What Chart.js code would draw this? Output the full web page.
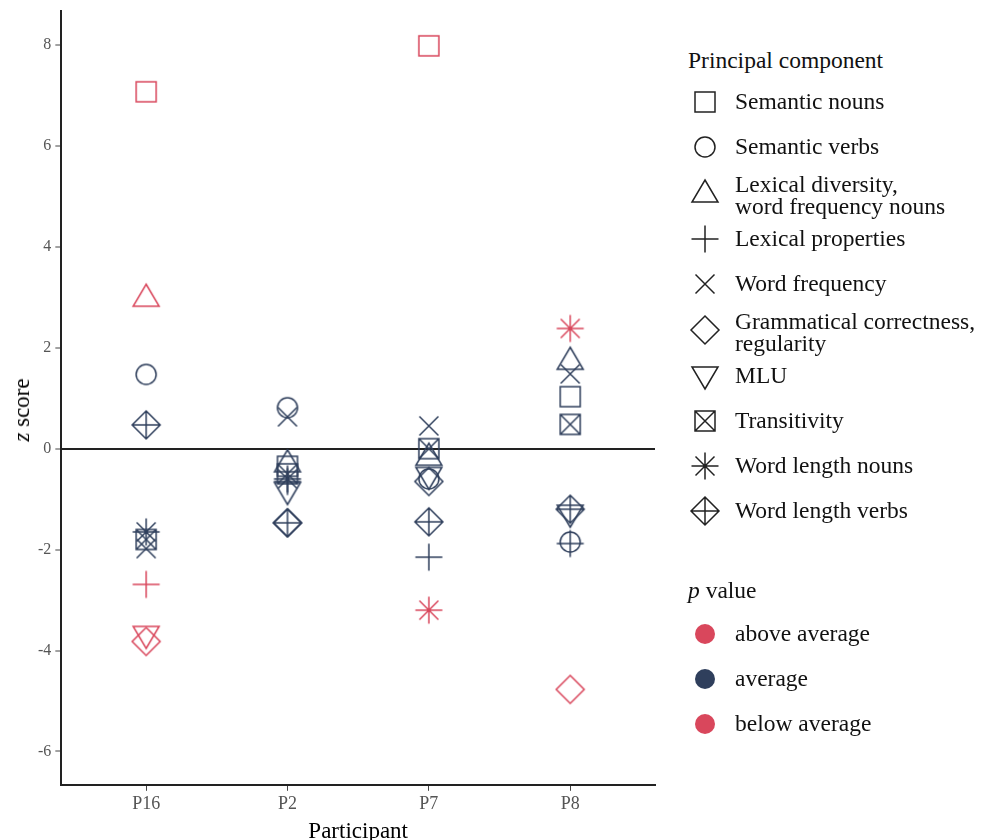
<!DOCTYPE html>
<html>
<head>
<meta charset="utf-8">
<script src="https://cdn.jsdelivr.net/npm/chart.js@4.4.1/dist/chart.umd.min.js"></script>
<style>
  body { margin: 0; background: #fff; width: 989px; height: 840px; overflow: hidden; position: relative; font-family: "Liberation Serif", "Times New Roman", serif; }
  #wrap { position: absolute; left: 0; top: -4px; width: 670px; height: 850px; }
  #ytitle { position: absolute; left: 22px; top: 410px; transform: translate(-50%, -50%) rotate(-90deg); font-size: 23px; color: #000; white-space: nowrap; }
  #legend { position: absolute; left: 688px; top: 45px; width: 300px; color: #111; font-size: 23.5px; }
  .ltitle { height: 34px; line-height: 30px; }
  .item { display: flex; align-items: center; height: 45px; }
  .item.two { height: 47px; line-height: 22px; }
  .item.two span { padding-top: 4px; }
  .item canvas { width: 34px; height: 34px; margin-left: 0; margin-right: 13px; flex: none; }
  .gap { height: 42px; }
  .ptitle { height: 36px; line-height: 30px; }
</style>
</head>
<body>
<div id="wrap"><canvas id="chart" width="670" height="850"></canvas></div>
<div id="ytitle"><i>z</i> score</div>
<div id="legend"></div>
<script>
// Participants (x axis)
const participants = ["P16", "P2", "P7", "P8"];
const yTicks = [-6, -4, -2, 0, 2, 4, 6, 8];

// Principal components (legend order)
const components = [
    "Semantic nouns",
    "Semantic verbs",
    "Lexical diversity,\nword frequency nouns",
    "Lexical properties",
    "Word frequency",
    "Grammatical correctness,\nregularity",
    "MLU",
    "Transitivity",
    "Word length nouns",
    "Word length verbs"
];
const shapes = ["square", "circle", "triangle", "plus", "cross", "diamond", "triangleDown", "squareCross", "asterisk", "diamondPlus"];

// z scores, one value per participant
const semanticNouns     = [7.07, -0.35, 7.98, 1.03];
const semanticVerbs     = [1.47, 0.81, -0.60, -1.85];
const lexicalDiversity  = [3.00, -0.28, -0.15, 1.75];
const lexicalProperties = [-2.69, -0.65, -2.15, -1.88];
const wordFrequency     = [-1.98, 0.63, 0.45, 1.48];
const grammatical       = [-3.82, -1.47, -0.65, -4.77];
const mlu               = [-3.70, -0.85, -0.55, -1.30];
const transitivity      = [-1.80, -0.50, 0.00, 0.48];
const wordLengthNouns   = [-1.65, -0.60, -3.20, 2.38];
const wordLengthVerbs   = [0.47, -1.47, -1.45, -1.20];

// p value category per point
const semanticNounsP     = ["above", "average", "above", "average"];
const semanticVerbsP     = ["average", "average", "average", "average"];
const lexicalDiversityP  = ["above", "average", "average", "average"];
const lexicalPropertiesP = ["below", "average", "average", "average"];
const wordFrequencyP     = ["average", "average", "average", "average"];
const grammaticalP       = ["below", "average", "average", "below"];
const mluP               = ["below", "average", "average", "average"];
const transitivityP      = ["average", "average", "average", "average"];
const wordLengthNounsP   = ["average", "average", "below", "above"];
const wordLengthVerbsP   = ["average", "average", "average", "average"];

const pLabels = ["above average", "average", "below average"];
const pKeys = ["above", "average", "below"];

const values = [semanticNouns, semanticVerbs, lexicalDiversity, lexicalProperties, wordFrequency,
    grammatical, mlu, transitivity, wordLengthNouns, wordLengthVerbs];
const status = [semanticNounsP, semanticVerbsP, lexicalDiversityP, lexicalPropertiesP, wordFrequencyP,
    grammaticalP, mluP, transitivityP, wordLengthNounsP, wordLengthVerbsP];

const colors = { above: "#d9475c", average: "#2f3f5c", below: "#d9475c" };
const serif = "'Liberation Serif', 'Times New Roman', serif";

// dessine un symbole façon ggplot
function drawShape(g, shape, x, y, color) {
    g.strokeStyle = color;
    g.lineWidth = 1.5;
    g.beginPath();
    const sq = 10, cr = 10, pl = 13.5, xr = 9.5, dm = 14;
    const plus = (r) => { g.moveTo(x - r, y); g.lineTo(x + r, y); g.moveTo(x, y - r); g.lineTo(x, y + r); };
    const cross = (r) => { g.moveTo(x - r, y - r); g.lineTo(x + r, y + r); g.moveTo(x + r, y - r); g.lineTo(x - r, y + r); };
    const diamond = (r) => { g.moveTo(x, y - r); g.lineTo(x + r, y); g.lineTo(x, y + r); g.lineTo(x - r, y); g.closePath(); };
    switch (shape) {
        case "square": g.rect(x - sq, y - sq, 2 * sq, 2 * sq); break;
        case "circle": g.arc(x, y, cr, 0, Math.PI * 2); break;
        case "triangle":
            g.moveTo(x, y - 13); g.lineTo(x + 13, y + 9); g.lineTo(x - 13, y + 9); g.closePath(); break;
        case "triangleDown":
            g.moveTo(x, y + 13); g.lineTo(x + 13, y - 9); g.lineTo(x - 13, y - 9); g.closePath(); break;
        case "plus": plus(pl); break;
        case "cross": cross(xr); break;
        case "diamond": diamond(dm); break;
        case "squareCross": g.rect(x - sq, y - sq, 2 * sq, 2 * sq); cross(sq); break;
        case "asterisk": plus(pl); cross(xr); break;
        case "diamondPlus": diamond(dm); plus(dm); break;
    }
    g.stroke();
}

function makeIcon(shape, color, size) {
    const c = document.createElement("canvas");
    c.width = size; c.height = size;
    drawShape(c.getContext("2d"), shape, size / 2, size / 2, color);
    return c;
}

// icônes par forme et par statut
const icons = {};
shapes.forEach((s) => {
    icons[s] = {};
    pKeys.forEach((k) => { icons[s][k] = makeIcon(s, colors[k], 34); });
});

// Légende HTML
const legend = document.getElementById("legend");
let html = '<div class="ltitle">Principal component</div>';
components.forEach((name, k) => {
    const two = name.includes("\n");
    html += `<div class="item${two ? " two" : ""}"><canvas id="lg${k}" width="34" height="34"></canvas><span>${name.replace("\n", "<br>")}</span></div>`;
});
html += '<div class="gap"></div><div class="ptitle"><i>p</i> value</div>';
pKeys.forEach((k, i) => {
    html += `<div class="item"><canvas id="pd${i}" width="34" height="34"></canvas><span>${pLabels[i]}</span></div>`;
});
legend.innerHTML = html;
components.forEach((name, k) => {
    drawShape(document.getElementById("lg" + k).getContext("2d"), shapes[k], 17, 17, "#222");
});
pKeys.forEach((k, i) => {
    const g = document.getElementById("pd" + i).getContext("2d");
    g.fillStyle = colors[k];
    g.beginPath(); g.arc(17, 17, 10, 0, Math.PI * 2); g.fill();
});

// Graphique
const ctx = document.getElementById("chart").getContext("2d");
const chart = new Chart(ctx, {
    type: "scatter",
    data: {
        datasets: components.map((name, k) => ({
            label: name,
            data: participants.map((p, i) => ({ x: i, y: values[k][i] })),
            pointStyle: (c) => icons[shapes[k]][status[k][c.dataIndex]],
            pointRadius: 14,
            pointHoverRadius: 14
        }))
    },
    options: {
        responsive: false,
        animation: false,
        layout: { padding: { left: 34, right: 14, top: 6, bottom: 0 } },
        plugins: { legend: { display: false }, tooltip: { enabled: false } },
        scales: {
            x: {
                type: "linear",
                min: -0.6,
                max: 3.6,
                afterBuildTicks: (ax) => { ax.ticks = participants.map((p, i) => ({ value: i })); },
                ticks: {
                    callback: (v) => participants[v],
                    font: { family: serif, size: 18 },
                    color: "#555",
                    padding: 3
                },
                grid: { drawOnChartArea: false, tickLength: 6, tickColor: "#444" },
                border: { color: "#222", width: 2 },
                title: {
                    display: true,
                    text: "Participant",
                    font: { family: serif, size: 23 },
                    color: "#000",
                    padding: { top: 0, bottom: 0 }
                }
            },
            y: {
                min: -6.66,
                max: 8.67,
                afterBuildTicks: (ax) => { ax.ticks = yTicks.map((v) => ({ value: v })); },
                ticks: {
                    font: { family: serif, size: 16 },
                    color: "#555",
                    padding: 4
                },
                grid: {
                    color: (c) => (c.tick && c.tick.value === 0 ? "#222" : "rgba(0,0,0,0)"),
                    lineWidth: 2,
                    tickLength: 6,
                    tickColor: "#444",
                    tickWidth: 1
                },
                border: { color: "#222", width: 2 }
            }
        }
    }
});
</script>
</body>
</html>
